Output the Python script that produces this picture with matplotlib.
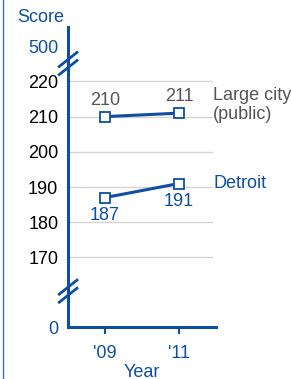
import matplotlib
matplotlib.use("Agg")
import matplotlib.pyplot as plt

plt.rcParams["font.family"] = ["Liberation Sans", "DejaVu Sans"]

BLUE = "#0f4f9f"
GRAY = "#555555"
GRID = "#d4d4d4"

YEARS = [2009, 2011]
YEAR_LABELS = ["'09", "'11"]
LARGE_CITY = [210, 211]
DETROIT = [187, 191]
YTICKS = [170, 180, 190, 200, 210, 220]
# axis is broken: 0 and 500 sit at stand-in positions
ZERO_POS = 150.2
TOP_POS = 230.0

FS = 13

fig = plt.figure(figsize=(2.91, 3.79), dpi=100)
ax = fig.add_axes([0.234, 0.137, 0.508, 0.792])
ax.set_xlim(2008, 2012)
ax.set_ylim(ZERO_POS, 235.5)

for s in ["top", "right"]:
    ax.spines[s].set_visible(False)
for s in ["left", "bottom"]:
    ax.spines[s].set_color(BLUE)
    ax.spines[s].set_linewidth(2.2)

for t in YTICKS:
    ax.plot([2008, 2011.9], [t, t], color=GRID, lw=1, zorder=1)

ax.set_yticks([ZERO_POS] + YTICKS + [TOP_POS])
ax.set_yticklabels(["0"] + [str(t) for t in YTICKS] + ["500"], fontsize=FS)
ax.tick_params(axis="y", length=0, pad=7)
for lab in ax.get_yticklabels():
    if lab.get_text() in ("0", "500"):
        lab.set_color(BLUE)

ax.set_xticks(YEARS)
ax.set_xticklabels(YEAR_LABELS, fontsize=FS, color=BLUE)
ax.tick_params(axis="x", direction="out", length=5, width=1.5, color=BLUE, pad=8)
ax.set_xlabel("Year", fontsize=FS, color=BLUE, labelpad=1)

mk = dict(marker="s", markersize=6.5, markerfacecolor="white",
          markeredgecolor=BLUE, markeredgewidth=1.3, color=BLUE, lw=2.2, zorder=3)
ax.plot(YEARS, LARGE_CITY, **mk)
ax.plot(YEARS, DETROIT, **mk)

for x, v in zip(YEARS, LARGE_CITY):
    ax.text(x, v + 2.2, str(v), ha="center", va="bottom", fontsize=FS, color=GRAY)
for x, v in zip(YEARS, DETROIT):
    ax.text(x, v - 2.6, str(v), ha="center", va="top", fontsize=FS, color=BLUE)

ax.text(2011.93, 213.3, "Large city\n(public)", ha="left", va="center",
        fontsize=FS, color=GRAY, linespacing=1.1)
ax.text(2011.93, 191.0, "Detroit", ha="left", va="center", fontsize=FS, color=BLUE)

# break marks across the y spine
dx, dy, gap = 0.24, 2.0, 2.3
for c in (225.1, 160.4):
    for off in (-gap / 2, gap / 2):
        ax.plot([2008 - dx, 2008 + dx], [c + off - dy, c + off + dy],
                color=BLUE, lw=2, clip_on=False, zorder=4)

fig.text(17 / 291, 1 - 17 / 379, "Score", fontsize=FS, color=BLUE, va="center")
fig.add_artist(plt.Line2D([2.5 / 291, 2.5 / 291], [0, 1], color="#3a6fb5", lw=1))

fig.savefig("out.png", dpi=100)
